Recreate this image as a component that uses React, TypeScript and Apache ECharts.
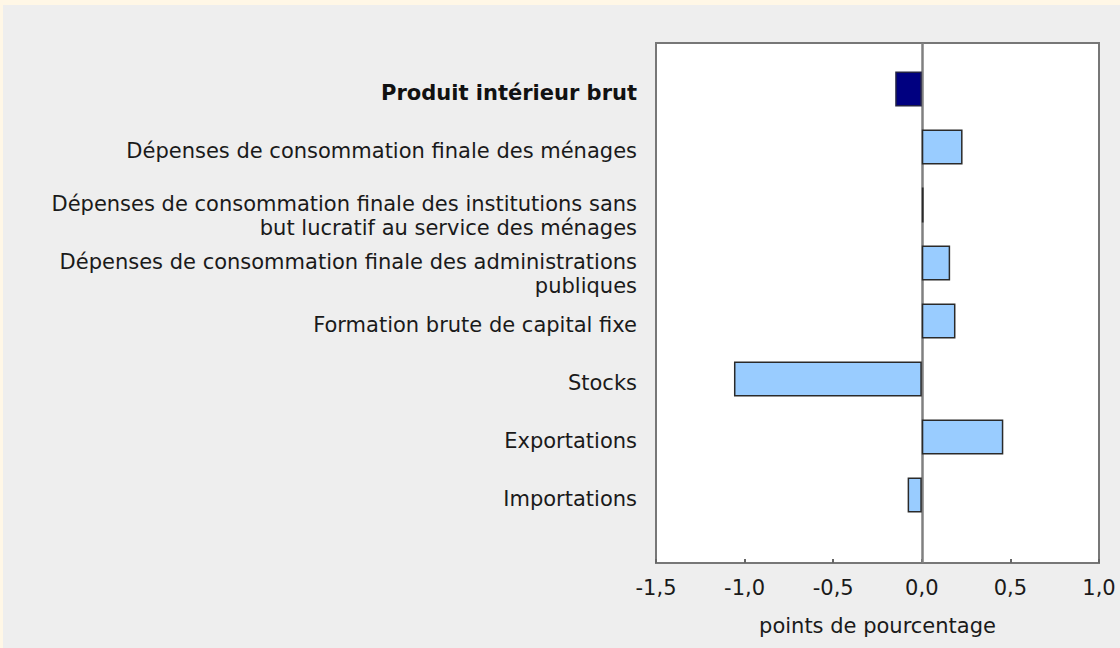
import React, { useEffect, useRef } from "react";
import * as echarts from "echarts";

const categories = [
  "Produit intérieur brut",
  "Dépenses de consommation finale des ménages",
  "Dépenses de consommation finale des institutions sans\nbut lucratif au service des ménages",
  "Dépenses de consommation finale des administrations\npubliques",
  "Formation brute de capital fixe",
  "Stocks",
  "Exportations",
  "Importations",
];
const values = [-0.15, 0.23, 0.01, 0.16, 0.19, -1.06, 0.46, -0.08];
const xMin = -1.5;
const xMax = 1.0;
const xInterval = 0.5;
const axisName = "points de pourcentage";

const FONT = "DejaVu Sans";
const FS = 21;

export default function App() {
  const ref = useRef<HTMLDivElement>(null);
  useEffect(() => {
    if (!ref.current) return;
    const chart = echarts.init(ref.current, undefined, { renderer: "svg" });
    chart.setOption({
      animation: false,
      backgroundColor: "#EEEEEE",
      textStyle: { fontFamily: FONT },
      grid: [
        { left: 653, right: 21, top: 55, bottom: 124, containLabel: false },
        {
          left: 653, right: 21, top: 38, bottom: 85, containLabel: false,
          show: true, backgroundColor: "#FFFFFF", borderColor: "#777777", borderWidth: 2, z: 0,
        },
      ],
      xAxis: [
        { gridIndex: 0, type: "value", min: xMin, max: xMax, interval: xInterval, show: false },
        {
          gridIndex: 1, type: "value", min: xMin, max: xMax, interval: xInterval,
          axisLine: { show: true, lineStyle: { color: "#777777", width: 2 } },
          axisTick: { show: true, inside: true, length: 4, lineStyle: { color: "#666666", width: 2 } },
          splitLine: { show: false },
          axisLabel: {
            margin: 14, fontSize: FS, color: "#1a1a1a", fontFamily: FONT,
            formatter: (v: number) => v.toFixed(1).replace(".", ","),
          },
          name: axisName, nameLocation: "middle", nameGap: 52,
          nameTextStyle: { fontSize: FS, color: "#1a1a1a", fontFamily: FONT },
        },
      ],
      yAxis: [
        {
          gridIndex: 0, type: "category", data: categories, inverse: true,
          axisLine: { show: false }, axisTick: { show: false },
          axisLabel: {
            margin: 19, fontSize: FS, lineHeight: 24, color: "#1a1a1a", fontFamily: FONT, align: "right",
            padding: [8, 0, 0, 0],
            formatter: (v: string, i: number) => {
              if (i === 0) return `{b|${v}}`;
              if (v.indexOf("\n") >= 0) return `{gap| }\n${v}`;
              return v;
            },
            rich: {
              b: { fontWeight: "bold", fontSize: FS, lineHeight: 24, color: "#111111", fontFamily: FONT },
              gap: { fontSize: 4, lineHeight: 13, fontFamily: FONT },
            },
          },
        },
        { gridIndex: 1, type: "value", min: 0, max: 1, show: false },
      ],
      series: [
        {
          type: "bar", xAxisIndex: 0, yAxisIndex: 0, barWidth: 35, z: 10,
          data: values.map((v, i) => ({
            value: v,
            itemStyle: i === 0
              ? { color: "#000080", borderColor: "#222244", borderWidth: 1.5 }
              : { color: "#99CCFF", borderColor: "#2a2a2a", borderWidth: 1.5 },
          })),
        },
        {
          type: "scatter", xAxisIndex: 1, yAxisIndex: 1, data: [], z: 1,
          markLine: {
            silent: true, z: 1, symbol: ["none", "none"], label: { show: false },
            lineStyle: { color: "#808080", width: 2.5, type: "solid" },
            data: [{ xAxis: 0 }],
          },
        },
      ],
    });
    return () => chart.dispose();
  }, []);
  return (
    <div style={{ position: "fixed", left: 0, top: 0, width: 1120, height: 648, background: "#FFF7E6" }}>
      <div ref={ref} style={{ position: "absolute", left: 3, top: 5, width: 1117, height: 643 }} />
    </div>
  );
}
